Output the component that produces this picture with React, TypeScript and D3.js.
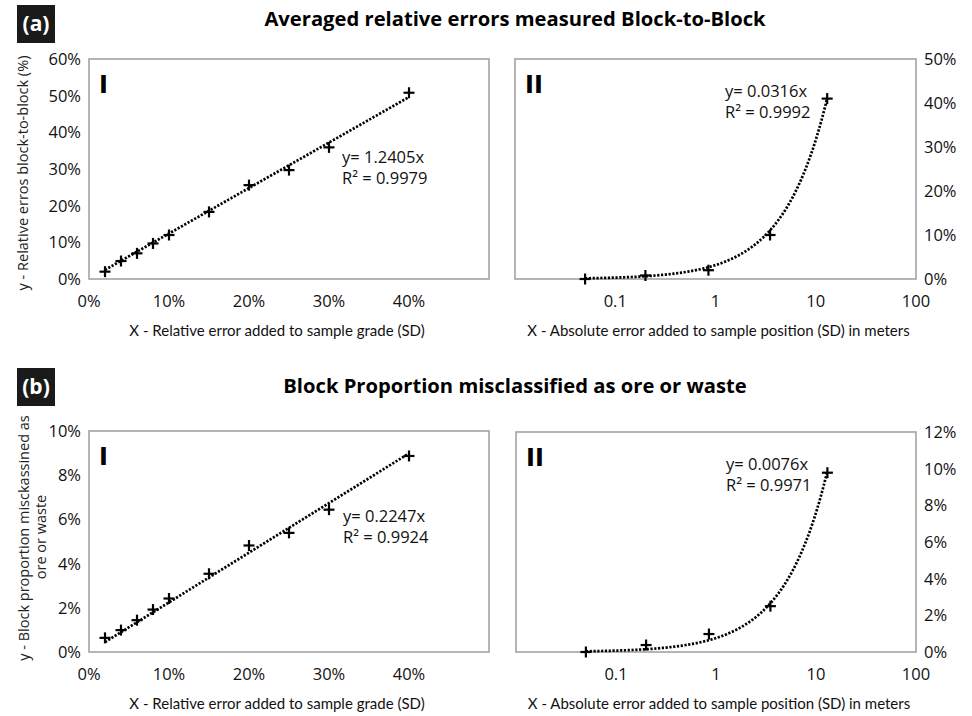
import React from 'react';
import * as d3 from 'd3';

// ---- data ----
const gradeErrors = [0.02, 0.04, 0.06, 0.08, 0.10, 0.15, 0.20, 0.25, 0.30, 0.40];
const blockErrGrade = [0.020, 0.049, 0.070, 0.097, 0.120, 0.183, 0.256, 0.297, 0.359, 0.508];
const posErrors = [0.05, 0.2, 0.85, 3.5, 13];
const blockErrPos = [0.000, 0.008, 0.020, 0.100, 0.410];
const misclassGrade = [0.0064, 0.0099, 0.0144, 0.0192, 0.0242, 0.0354, 0.0482, 0.0539, 0.0644, 0.0887];
const misclassPos = [0.000, 0.0038, 0.0098, 0.025, 0.0978];

const slopes = [1.2405, 0.0316, 0.2247, 0.0076];
const r2s = ['0.9979', '0.9992', '0.9924', '0.9971'];

const xTicksGrade = [0, 0.1, 0.2, 0.3, 0.4];
const xTicksLog = [0.1, 1, 10, 100];
const yTicksA1 = [0, 0.1, 0.2, 0.3, 0.4, 0.5, 0.6];
const yTicksA2 = [0, 0.1, 0.2, 0.3, 0.4, 0.5];
const yTicksB1 = [0, 0.02, 0.04, 0.06, 0.08, 0.1];
const yTicksB2 = [0, 0.02, 0.04, 0.06, 0.08, 0.1, 0.12];

const titleA = 'Averaged relative errors measured Block-to-Block';
const titleB = 'Block Proportion misclassified as ore or waste';
const xLabelGrade = 'X - Relative error added to sample grade (SD)';
const xLabelPos = 'X - Absolute error added to sample position (SD) in meters';
const yLabelA = 'y - Relative erros block-to-block (%)';
const yLabelB1 = 'y - Block proportion misckassined as';
const yLabelB2 = 'ore or waste';

const TICK_FONT = "'Open Sans', sans-serif";
const LABEL_FONT = "Lato, sans-serif";

type PanelProps = {
  left: number; top: number; width: number; height: number;
  log: boolean; xDomain: [number, number]; yDomain: [number, number];
  xTicks: number[]; yTicks: number[]; side: 'left' | 'right';
  xs: number[]; ys: number[]; slope: number; r2: string;
  annX: number; annY: number; roman: string; xLabel: string;
};

function Panel(p: PanelProps) {
  const x: any = p.log
    ? d3.scaleLog().domain(p.xDomain).range([p.left, p.left + p.width])
    : d3.scaleLinear().domain(p.xDomain).range([p.left, p.left + p.width]);
  const y = d3.scaleLinear().domain(p.yDomain).range([p.top + p.height, p.top]);
  const bottom = p.top + p.height;
  const xmin = d3.min(p.xs) as number;
  const xmax = d3.max(p.xs) as number;
  const n = 120;
  const trendX = p.log
    ? d3.range(n + 1).map(i => Math.exp(Math.log(xmin) + (Math.log(xmax) - Math.log(xmin)) * i / n))
    : [xmin, xmax];
  const line = d3.line<number>().x(d => x(d)).y(d => y(p.slope * d));
  const pctFmt = (v: number) => `${Math.round(v * 100)}%`;
  const xFmt = p.log ? (v: number) => String(v) : pctFmt;
  const cs = 5.5;
  return (
    <g>
      <rect x={p.left} y={p.top} width={p.width} height={p.height} fill="#fff" stroke="#a3a3a3" strokeWidth={1.6} />
      <text x={p.left + 10} y={p.top + 34} fontFamily="'DejaVu Sans', sans-serif" fontWeight="bold" fontSize={24} fill="#000">{p.roman}</text>
      {p.yTicks.map(t => (
        <text key={'y' + t}
          x={p.side === 'left' ? p.left - 8 : p.left + p.width + 8}
          y={y(t) + 6}
          textAnchor={p.side === 'left' ? 'end' : 'start'}
          fontFamily={TICK_FONT} fontSize={16.5} fill="#111">{pctFmt(t)}</text>
      ))}
      {p.xTicks.map(t => (
        <text key={'x' + t} x={x(t)} y={bottom + 28} textAnchor="middle"
          fontFamily={TICK_FONT} fontSize={16.5} fill="#111">{xFmt(t)}</text>
      ))}
      <path d={line(trendX) || ''} fill="none" stroke="#000" strokeWidth={2.7} strokeDasharray="2.2 1.6" />
      {p.xs.map((v, i) => (
        <g key={'m' + i} stroke="#000" strokeWidth={2.2}>
          <line x1={x(v) - cs} x2={x(v) + cs} y1={y(p.ys[i])} y2={y(p.ys[i])} />
          <line x1={x(v)} x2={x(v)} y1={y(p.ys[i]) - cs} y2={y(p.ys[i]) + cs} />
        </g>
      ))}
      <text x={p.left + p.annX} y={p.top + p.annY} fontFamily={TICK_FONT} fontSize={16.5} fill="#111">{`y= ${p.slope}x`}</text>
      <text x={p.left + p.annX} y={p.top + p.annY + 21} fontFamily={TICK_FONT} fontSize={16.5} fill="#111">{`R² = ${p.r2}`}</text>
      <text x={p.left + p.width / 2 - (p.log ? -3 : 12)} y={bottom + 57} textAnchor="middle"
        fontFamily={LABEL_FONT} fontSize={15} fill="#111">{p.xLabel}</text>
    </g>
  );
}

function Badge({ x, y, label }: { x: number; y: number; label: string }) {
  return (
    <g>
      <rect x={x} y={y} width={38} height={38} fill="#1a1a1a" />
      <text x={x + 19} y={y + 26} textAnchor="middle" fontFamily={TICK_FONT} fontWeight="bold" fontSize={21} fill="#fff">{label}</text>
    </g>
  );
}

export default function App() {
  return (
    <svg width={972} height={716} style={{ position: 'absolute', left: 0, top: 0, background: '#fff' }}>
      <rect width={972} height={716} fill="#fff" />
      <Badge x={17} y={5} label="(a)" />
      <text x={515} y={26} textAnchor="middle" fontFamily={TICK_FONT} fontWeight="bold" fontSize={20.2} fill="#000">{titleA}</text>
      <text transform="translate(28,173) rotate(-90)" textAnchor="middle" fontFamily={TICK_FONT} fontSize={14.5} fill="#222">{yLabelA}</text>

      <Panel left={89} top={59} width={400} height={220} log={false} xDomain={[0, 0.5]} yDomain={[0, 0.6]}
        xTicks={xTicksGrade} yTicks={yTicksA1} side="left" xs={gradeErrors} ys={blockErrGrade}
        slope={slopes[0]} r2={r2s[0]} annX={253} annY={104} roman="I" xLabel={xLabelGrade} />
      <Panel left={515} top={59} width={401} height={220} log={true} xDomain={[0.01, 100]} yDomain={[0, 0.5]}
        xTicks={xTicksLog} yTicks={yTicksA2} side="right" xs={posErrors} ys={blockErrPos}
        slope={slopes[1]} r2={r2s[1]} annX={210} annY={38} roman="II" xLabel={xLabelPos} />

      <Badge x={17} y={368} label="(b)" />
      <text x={515} y={393} textAnchor="middle" fontFamily={TICK_FONT} fontWeight="bold" fontSize={20.2} fill="#000">{titleB}</text>
      <text transform="translate(29,538) rotate(-90)" textAnchor="middle" fontFamily={TICK_FONT} fontSize={14.5} fill="#222">{yLabelB1}</text>
      <text transform="translate(46,537) rotate(-90)" textAnchor="middle" fontFamily={TICK_FONT} fontSize={14.5} fill="#222">{yLabelB2}</text>

      <Panel left={89} top={431} width={400} height={221} log={false} xDomain={[0, 0.5]} yDomain={[0, 0.1]}
        xTicks={xTicksGrade} yTicks={yTicksB1} side="left" xs={gradeErrors} ys={misclassGrade}
        slope={slopes[2]} r2={r2s[2]} annX={254} annY={91} roman="I" xLabel={xLabelGrade} />
      <Panel left={516} top={432} width={400} height={220} log={true} xDomain={[0.01, 100]} yDomain={[0, 0.12]}
        xTicks={xTicksLog} yTicks={yTicksB2} side="right" xs={posErrors} ys={misclassPos}
        slope={slopes[3]} r2={r2s[3]} annX={210} annY={38} roman="II" xLabel={xLabelPos} />
    </svg>
  );
}
